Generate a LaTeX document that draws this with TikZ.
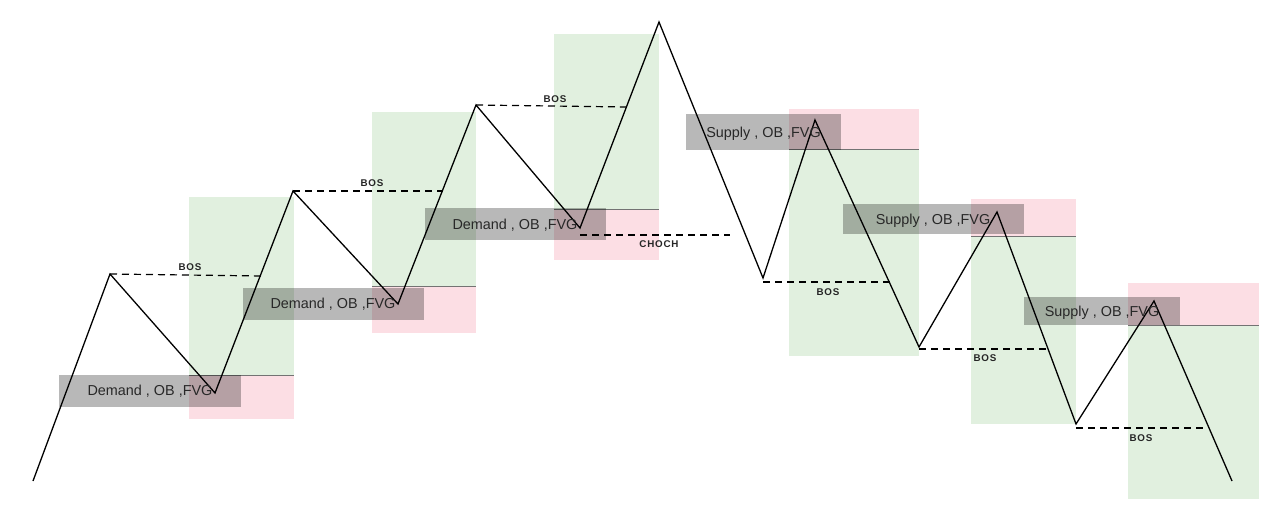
\documentclass[tikz,border=0pt]{standalone}
\usepackage{fontspec}
\setmainfont{Liberation Sans}
\definecolor{zonegreen}{RGB}{225,240,223}
\definecolor{zonepink}{RGB}{252,222,228}
\definecolor{inktext}{RGB}{40,40,40}
\begin{document}
\begin{tikzpicture}[x=1pt,y=-1pt,
  greenzone/.style={fill=zonegreen},
  pinkzone/.style={fill=zonepink},
  splitline/.style={draw=black!55,line width=0.9pt},
  price/.style={draw=black,line width=1.3pt,line join=miter},
  level/.style={draw=black,line width=1.2pt,dash pattern=on 7pt off 5pt},
  tag/.style={fill=black,fill opacity=0.28,text opacity=1,text=inktext,
    inner sep=0pt,text height=10.4pt,text depth=0pt,
    font=\fontsize{14.4}{16}\selectfont},
  marker/.style={inner sep=0pt,text=black!85,
    font=\fontsize{9.8}{11}\selectfont\bfseries\addfontfeatures{LetterSpace=8}}]
\useasboundingbox (0,0) rectangle (1280,524);

% demand zones (green above, pink below)
\fill[greenzone] (189,197) rectangle (294,375);
\fill[pinkzone]  (189,375) rectangle (294,419);
\fill[greenzone] (372,112) rectangle (476,286);
\fill[pinkzone]  (372,286) rectangle (476,333);
\fill[greenzone] (554,34)  rectangle (659,209);
\fill[pinkzone]  (554,209) rectangle (659,260);

% supply zones (pink above, green below)
\fill[pinkzone]  (789,109) rectangle (919,149);
\fill[greenzone] (789,149) rectangle (919,356);
\fill[pinkzone]  (971,199) rectangle (1076,236);
\fill[greenzone] (971,236) rectangle (1076,424);
\fill[pinkzone]  (1128,283) rectangle (1259,325);
\fill[greenzone] (1128,325) rectangle (1259,499);

% zone boundaries
\draw[splitline] (189,375) -- (294,375);
\draw[splitline] (372,286) -- (476,286);
\draw[splitline] (554,209) -- (659,209);
\draw[splitline] (789,149) -- (919,149);
\draw[splitline] (971,236) -- (1076,236);
\draw[splitline] (1128,325) -- (1259,325);

% swing points of the price path
\coordinate (p0)  at (33,481);
\coordinate (p1)  at (110,274);
\coordinate (p2)  at (215,393);
\coordinate (p3)  at (293,191);
\coordinate (p4)  at (398,304);
\coordinate (p5)  at (476,105);
\coordinate (p6)  at (580,228);
\coordinate (p7)  at (659,22);
\coordinate (p8)  at (763,278);
\coordinate (p9)  at (815,120);
\coordinate (p10) at (919,347);
\coordinate (p11) at (997,212);
\coordinate (p12) at (1076,424);
\coordinate (p13) at (1154,301);
\coordinate (p14) at (1232,481);

% ends of the structure levels
\coordinate (b1) at (262,276);
\coordinate (b2) at (443,191);
\coordinate (b3) at (627,107);
\coordinate (c0) at (580,235);
\coordinate (c1) at (730,235);
\coordinate (s1a) at (763,282);
\coordinate (s1b) at (893,282);
\coordinate (s2a) at (919,349);
\coordinate (s2b) at (1050,349);
\coordinate (s3a) at (1076,428);
\coordinate (s3b) at (1207,428);

\draw[level] (p1) -- (b1);
\draw[level] (p3) -- (b2);
\draw[level] (p5) -- (b3);
\draw[level] (c0) -- (c1);
\draw[level] (s1a) -- (s1b);
\draw[level] (s2a) -- (s2b);
\draw[level] (s3a) -- (s3b);

\draw[price] (p0) -- (p1) -- (p2) -- (p3) -- (p4) -- (p5) -- (p6) -- (p7)
  -- (p8) -- (p9) -- (p10) -- (p11) -- (p12) -- (p13) -- (p14);

% zone labels
\node[tag,minimum width=182pt,minimum height=32pt] (d1) at (150,390.5) {Demand , OB ,FVG};
\node[tag,minimum width=181pt,minimum height=32pt] (d2) at (333,303.5) {Demand , OB ,FVG};
\node[tag,minimum width=181pt,minimum height=32pt] (d3) at (515,224) {Demand , OB ,FVG};
\node[tag,minimum width=155pt,minimum height=36pt] (u1) at (763.5,132) {Supply , OB ,FVG};
\node[tag,minimum width=181pt,minimum height=30pt] (u2) at (933,219) {Supply , OB ,FVG};
\node[tag,minimum width=156pt,minimum height=28pt] (u3) at (1102,311) {Supply , OB ,FVG};

% structure labels
\node[marker] (l1) at (190,267) {BOS};
\node[marker] (l2) at (372,183) {BOS};
\node[marker] (l3) at (555,99)  {BOS};
\node[marker] (l4) at (659,244) {CHOCH};
\node[marker] (l5) at (828,292) {BOS};
\node[marker] (l6) at (985,358) {BOS};
\node[marker] (l7) at (1141,438) {BOS};
\end{tikzpicture}
\end{document}
